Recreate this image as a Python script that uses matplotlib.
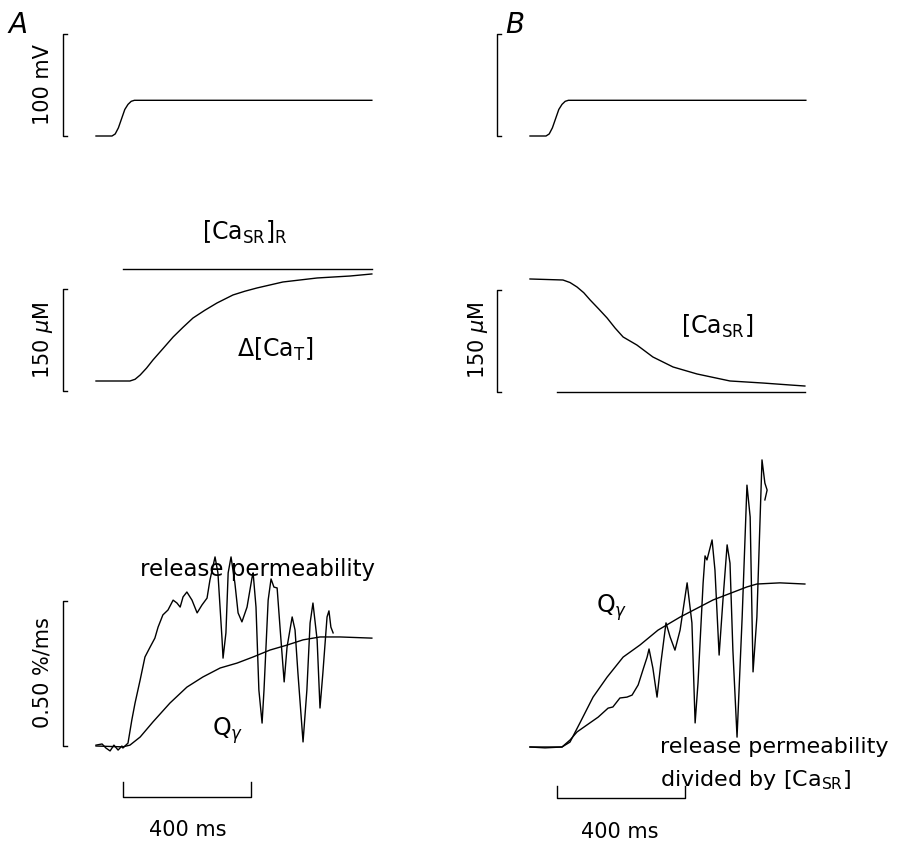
import matplotlib.pyplot as plt

# time in ms, values in trace units
volt_t = [0, 50, 60, 70, 80, 90, 100, 110, 120, 862]
volt_v = [-90, -90, -88, -82, -73, -64, -59, -56, -55, -55]

cat_t = [0, 106, 122, 138, 158, 178, 210, 241, 272, 303, 340, 378, 428, 465, 503, 584, 691, 794, 862]
cat_v = [0, 0, 2.5, 8.8, 19, 30.9, 48, 64.7, 79, 92.6, 104, 114.7, 126.5, 132, 136.8,
         145.6, 151.5, 154.4, 157.4]
casr_rest = 164.7

casr_t = [0, 103, 125, 147, 168, 188, 215, 241, 266, 291, 334, 384, 447, 522, 625, 728, 813, 859]
casr_v = [166.2, 164.7, 161, 154.4, 146, 135.3, 122, 108.8, 94, 80.9, 69.1, 51.5, 36.8,
          26.5, 16.2, 13.2, 10.3, 8.8]

relA_t = [0, 19, 31, 44, 56, 69, 81, 84, 100, 112, 122, 138, 153, 169, 184, 194, 209,
          225, 241, 253, 263, 272, 284, 300, 316, 331, 347, 356, 372, 381, 394, 397,
          406, 413, 422, 434, 444, 456, 472, 488, 491, 500, 509, 519, 525, 538, 547,
          556, 566, 575, 588, 597, 613, 622, 631, 647, 659, 669, 678, 691, 700, 709,
          722, 728, 734, 741]
relA_v = [0.003, 0.007, -0.007, -0.017, 0.003, -0.014, 0, -0.007, 0.010, 0.090, 0.148,
          0.228, 0.307, 0.341, 0.372, 0.410, 0.452, 0.469, 0.503, 0.493, 0.479, 0.514,
          0.531, 0.503, 0.459, 0.486, 0.510, 0.572, 0.652, 0.597, 0.366, 0.303, 0.390,
          0.597, 0.652, 0.562, 0.459, 0.428, 0.479, 0.583, 0.597, 0.479, 0.193, 0.079,
          0.193, 0.503, 0.576, 0.548, 0.545, 0.410, 0.221, 0.341, 0.445, 0.400, 0.252,
          0.014, 0.193, 0.424, 0.493, 0.366, 0.131, 0.252, 0.445, 0.466, 0.410, 0.390]
qA_t = [0, 84, 106, 138, 178, 231, 284, 334, 388, 441, 491, 544, 597, 647, 700, 763, 862]
qA_v = [0, -0.003, 0.003, 0.031, 0.083, 0.148, 0.203, 0.238, 0.269, 0.286, 0.307,
        0.331, 0.348, 0.366, 0.376, 0.376, 0.372]

relB_t = [0, 47, 100, 125, 147, 178, 213, 244, 259, 281, 303, 319, 338, 353, 366, 372,
          384, 397, 409, 425, 438, 453, 469, 491, 506, 516, 525, 541, 547, 553, 569,
          578, 591, 603, 616, 625, 634, 647, 663, 678, 688, 697, 709, 725, 734, 741, 734]
relB_v = [0, -0.003, 0, 0.024, 0.052, 0.076, 0.103, 0.134, 0.138, 0.169, 0.172, 0.179,
          0.214, 0.266, 0.310, 0.338, 0.272, 0.172, 0.290, 0.428, 0.379, 0.334, 0.403,
          0.566, 0.428, 0.083, 0.221, 0.566, 0.659, 0.645, 0.714, 0.610, 0.317, 0.507,
          0.697, 0.634, 0.334, 0.034, 0.448, 0.903, 0.793, 0.259, 0.448, 0.990, 0.910,
          0.886, 0.852]
qB_t = [0, 100, 125, 156, 197, 241, 291, 344, 400, 469, 572, 678, 709, 781, 859]
qB_v = [0, 0, 0.017, 0.083, 0.172, 0.241, 0.310, 0.352, 0.403, 0.448, 0.507, 0.552,
        0.562, 0.566, 0.562]

W, H = 911, 841
fig = plt.figure(figsize=(W / 100, H / 100), dpi=100)
plt.rcParams['font.family'] = ['DejaVu Sans']
FS = 15
LW = 1.0
K = 'black'


def overlay(x0, yb, vb, ys):
    # full-figure axes: t=0 at pixel x0, value vb at pixel yb, ys px per unit
    ax = fig.add_axes([0, 0, 1, 1])
    ax.set_xlim(-x0 / 0.32, (W - x0) / 0.32)
    ax.set_ylim(vb + (yb - H) / ys, vb + yb / ys)
    ax.axis('off')
    ax.patch.set_alpha(0)
    return ax


def bracket(ax, lo, hi):
    ax.plot([-91, -103, -103, -91], [lo, lo, hi, hi], color=K, lw=LW)


def timebar(ax, y, tick):
    ax.plot([84, 84, 484, 484], [y + tick, y, y, y + tick], color=K, lw=LW)


for x0 in (96, 530):
    ax = overlay(x0, 136, -90, 1.02)
    ax.plot(volt_t, volt_v, color=K, lw=LW)
    bracket(ax, -90, 10)
    if x0 == 96:
        ax.text(-166, -40, '100 mV', rotation=90, ha='center', va='center', fontsize=FS)

# A middle
ax = overlay(96, 381, 0, 0.68)
ax.plot(cat_t, cat_v, color=K, lw=LW)
ax.plot([84, 862], [casr_rest, casr_rest], color=K, lw=LW)
bracket(ax, -15, 135)
ax.text(-166, 60, r'150 $\mu$M', rotation=90, ha='center', va='center', fontsize=FS)
ax.text(466, 219, r'$[\mathrm{Ca_{SR}}]_\mathrm{R}$', ha='center', va='center', fontsize=FS + 2)
ax.text(559, 46, r'$\Delta[\mathrm{Ca_T}]$', ha='center', va='center', fontsize=FS + 2)

# B middle
ax = overlay(530, 392, 0, 0.68)
ax.plot(casr_t, casr_v, color=K, lw=LW)
ax.plot([84, 859], [0, 0], color=K, lw=LW)
bracket(ax, 0, 150)
ax.text(-163, 76, r'150 $\mu$M', rotation=90, ha='center', va='center', fontsize=FS)
ax.text(584, 96, r'$[\mathrm{Ca_{SR}}]$', ha='center', va='center', fontsize=FS + 2)

# A bottom
ax = overlay(96, 746, 0, 290)
ax.plot(relA_t, relA_v, color=K, lw=LW)
ax.plot(qA_t, qA_v, color=K, lw=LW)
bracket(ax, 0, 0.5)
timebar(ax, -0.176, 0.052)
ax.text(-166, 0.252, '0.50 %/ms', rotation=90, ha='center', va='center', fontsize=FS)
ax.text(506, 0.61, 'release permeability', ha='center', va='center', fontsize=16.5)
ax.text(412, 0.052, r'$\mathrm{Q}_\gamma$', ha='center', va='center', fontsize=FS + 2)
ax.text(288, -0.29, '400 ms', ha='center', va='center', fontsize=FS)

# B bottom
ax = overlay(530, 747, 0, 290)
ax.plot(relB_t, relB_v, color=K, lw=LW)
ax.plot(qB_t, qB_v, color=K, lw=LW)
timebar(ax, -0.176, 0.042)
ax.text(256, 0.479, r'$\mathrm{Q}_\gamma$', ha='center', va='center', fontsize=FS + 2)
ax.text(406, 0.0, 'release permeability', ha='left', va='center', fontsize=16)
ax.text(406, -0.114, r'divided by $[\mathrm{Ca_{SR}}]$', ha='left', va='center', fontsize=16)
ax.text(281, -0.293, '400 ms', ha='center', va='center', fontsize=FS)

fig.text(18 / W, 1 - 25 / H, 'A', fontsize=20, style='italic', ha='center', va='center')
fig.text(515 / W, 1 - 25 / H, 'B', fontsize=20, style='italic', ha='center', va='center')

fig.savefig('out.png', dpi=100)
